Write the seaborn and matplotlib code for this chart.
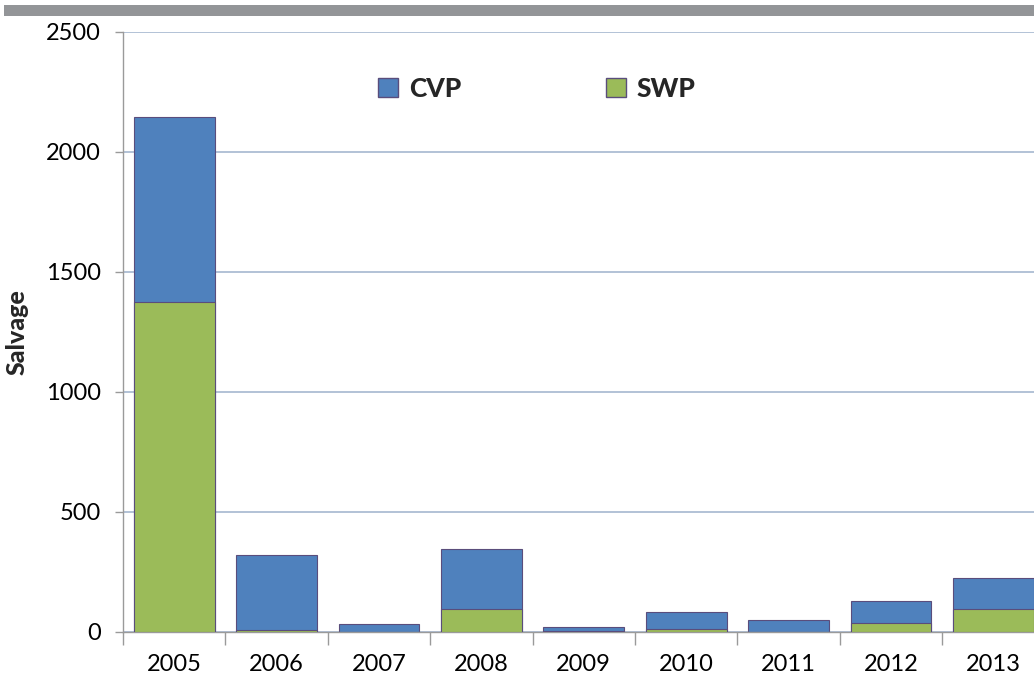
import matplotlib
matplotlib.use("Agg")
import matplotlib.pyplot as plt
from matplotlib.patches import Rectangle, Patch
import numpy as np
import pandas as pd
import seaborn as sns

years = ["2005", "2006", "2007", "2008", "2009", "2010", "2011", "2012", "2013"]
swp = [1375, 8, 1, 95, 6, 11, 0, 39, 95]
cvp = [771, 313, 31, 252, 14, 72, 49, 89, 131]
yticks = [0, 500, 1000, 1500, 2000, 2500]

blue = "#4F81BD"
green = "#9BBB59"
edge = "#5A4D7C"

df = pd.DataFrame({"year": years, "SWP": swp, "CVP": cvp})
df["total"] = df["SWP"] + df["CVP"]

sns.set_style("white")
plt.rcParams["font.family"] = ["Lato", "DejaVu Sans"]

fig = plt.figure(figsize=(10.34, 6.81), dpi=100)
ax = fig.add_axes([123 / 1034, 49 / 681, 921.6 / 1034, 600 / 681])

# gray band across the top of the figure
fig.patches.append(Rectangle((4 / 1034, 665 / 681), 1 - 4 / 1034, 11 / 681,
                             transform=fig.transFigure, facecolor="#939598",
                             edgecolor="none", zorder=0))

ax.yaxis.grid(True, color="#A5B7CF", linewidth=1.2, zorder=0)
ax.set_axisbelow(True)

# stacked bars: full height in blue, SWP part over it in green
sns.barplot(data=df, x="year", y="total", color=blue, saturation=1,
            width=0.79, edgecolor=edge, linewidth=0.8, ax=ax, zorder=2)
sns.barplot(data=df, x="year", y="SWP", color=green, saturation=1,
            width=0.79, edgecolor=edge, linewidth=0.8, ax=ax, zorder=3)

ax.set_xlim(-0.5, len(years) - 0.5)
ax.set_ylim(0, 2500)
ax.set_yticks(yticks)
ax.set_yticklabels([str(v) for v in yticks])

ax.set_xlabel("")
ax.set_ylabel("Salvage", fontsize=18, fontweight="black")
ax.yaxis.set_label_coords(-0.102, 0.5)

for side in ["top", "right"]:
    ax.spines[side].set_visible(False)
for side in ["left", "bottom"]:
    ax.spines[side].set_color("#9A9A9A")
    ax.spines[side].set_linewidth(1)

ax.set_xticks(np.arange(-0.5, len(years) + 0.5, 1), minor=True)
ax.tick_params(axis="x", which="major", length=0, pad=16, labelsize=17,
               labelcolor="black")
ax.tick_params(axis="x", which="minor", length=9, width=1, color="#9A9A9A",
               direction="out", bottom=True)
ax.tick_params(axis="y", which="major", length=6, width=1, color="#9A9A9A",
               direction="out", left=True, pad=10, labelsize=17,
               labelcolor="black")

handles = [Patch(facecolor=blue, edgecolor=edge, label="CVP"),
           Patch(facecolor=green, edgecolor=edge, label="SWP")]
ax.legend(handles=handles, loc="center", bbox_to_anchor=(0.449, 0.905),
          ncol=2, frameon=False, prop={"weight": "black", "size": 19},
          handlelength=0.75, handleheight=0.75, handletextpad=0.4,
          columnspacing=5.5)

fig.savefig("out.png", dpi=100)
